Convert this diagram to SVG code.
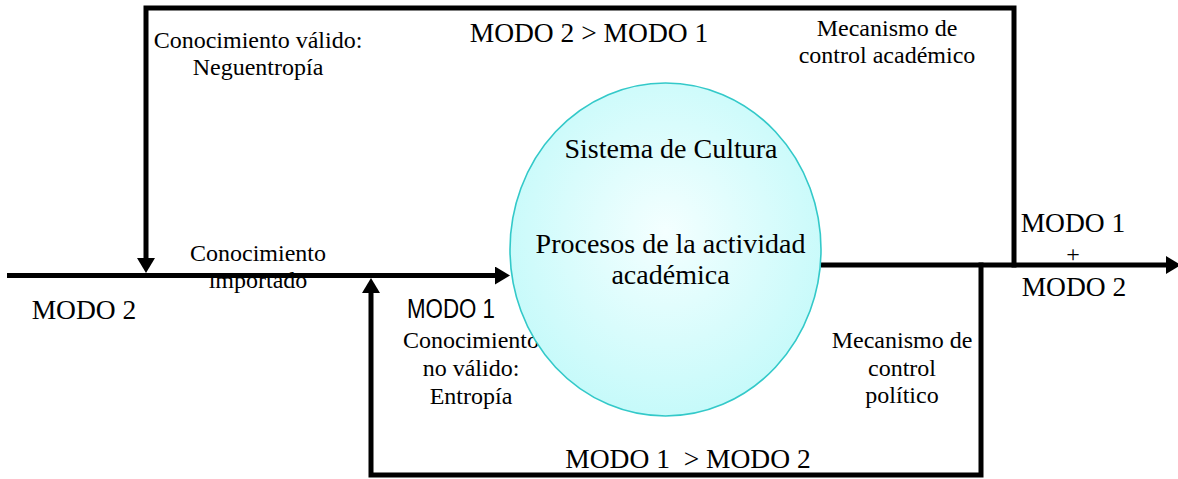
<svg xmlns="http://www.w3.org/2000/svg" width="1178" height="479" viewBox="0 0 1178 479">
  <style>
    .s { font-family: "Liberation Serif", "Times New Roman", serif; font-size: 24px; fill: #000; text-anchor: middle; }
    .m { font-family: "Liberation Serif", "Times New Roman", serif; font-size: 27.5px; fill: #000; text-anchor: middle; }
    .sans { font-family: "Liberation Sans", Arial, sans-serif; font-size: 27px; fill: #000; }
    .wire { fill: none; stroke: #000; stroke-width: 5; stroke-linejoin: miter; stroke-linecap: butt; }
  </style>
  <defs>
    <marker id="ah" viewBox="0 -9 15 18" refX="0" refY="0" markerWidth="15" markerHeight="18" markerUnits="userSpaceOnUse" orient="auto">
      <path d="M0,-9 L15,0 L0,9 Z" fill="#000"/>
    </marker>
    <radialGradient id="cyanfill" cx="50%" cy="45%" r="55%">
      <stop offset="0" stop-color="#f4ffff"/>
      <stop offset="1" stop-color="#c6fafa"/>
    </radialGradient>
  </defs>

  <rect width="1178" height="479" fill="#fff"/>

  <g id="labels">
    <text class="s" x="258" y="48">Conocimiento válido:</text>
    <text class="s" x="258" y="75">Neguentropía</text>
    <text class="m" x="589" y="42">MODO 2 &gt; MODO 1</text>
    <text class="s" x="887" y="36">Mecanismo de</text>
    <text class="s" x="887" y="63">control académico</text>
    <text class="s" x="258" y="261">Conocimiento</text>
    <text class="s" x="258" y="288">importado</text>
    <text class="m" x="84" y="319">MODO 2</text>
    <text class="sans" x="407" y="318" textLength="88" lengthAdjust="spacingAndGlyphs">MODO 1</text>
    <text class="s" x="471" y="348">Conocimiento</text>
    <text class="s" x="471" y="376">no válido:</text>
    <text class="s" x="471" y="404">Entropía</text>
    <text class="s" x="902" y="348">Mecanismo de</text>
    <text class="s" x="902" y="376">control</text>
    <text class="s" x="902" y="403">político</text>
    <text class="m" x="688" y="468" xml:space="preserve">MODO 1  &gt; MODO 2</text>
    <text class="m" x="1073" y="232">MODO 1</text>
    <text class="s" x="1073" y="262">+</text>
    <text class="m" x="1074" y="296">MODO 2</text>
  </g>

  <g id="connectors">
    <line class="wire" x1="7" y1="275.5" x2="495" y2="275.5" marker-end="url(#ah)"/>
    <polyline class="wire" points="1014,267.5 1014,8 146,8 146,258" marker-end="url(#ah)"/>
    <polyline class="wire" points="981,262.5 981,475 371,475 371,293" marker-end="url(#ah)"/>
    <line class="wire" x1="821" y1="265" x2="1166" y2="265" marker-end="url(#ah)"/>
  </g>

  <g id="sistema">
    <ellipse cx="665.5" cy="249.5" rx="155.5" ry="166.5" fill="url(#cyanfill)" stroke="#33c9c9" stroke-width="1.6"/>
    <text class="m" x="671" y="158" style="font-size:28px">Sistema de Cultura</text>
    <text class="m" x="670.5" y="253" style="font-size:28px">Procesos de la actividad</text>
    <text class="m" x="670.5" y="284" style="font-size:28px">académica</text>
  </g>
</svg>
